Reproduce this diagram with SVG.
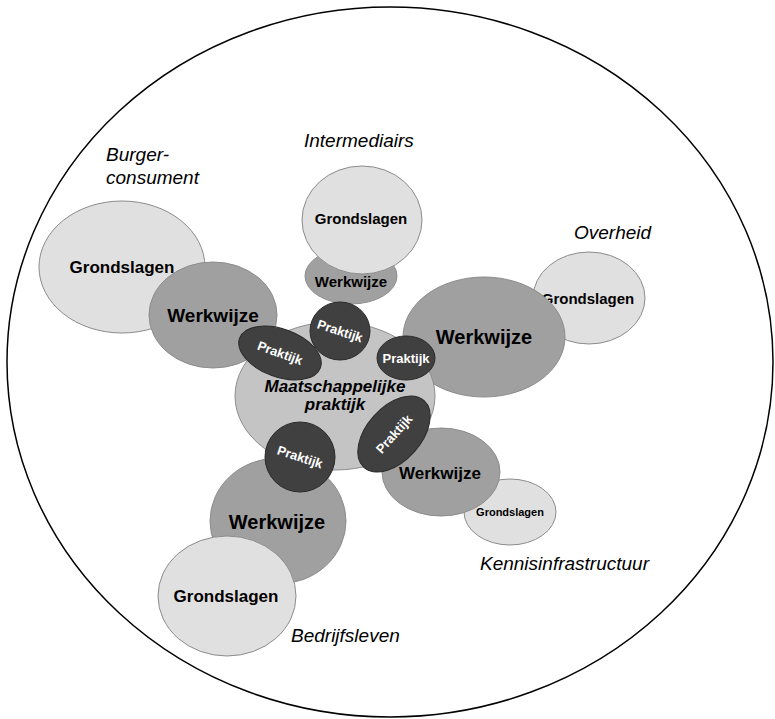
<svg xmlns="http://www.w3.org/2000/svg" width="775" height="719" viewBox="0 0 775 719">
  <style>
    text { font-family: "Liberation Sans", Arial, sans-serif; text-anchor: middle; }
    .frame { fill: none; stroke: #000; stroke-width: 1.5; }
    .grond { fill: #e0e0e0; stroke: #8c8c8c; stroke-width: 1; }
    .werk { fill: #a0a0a0; stroke: #8c8c8c; stroke-width: 1; }
    .kern { fill: #c4c4c4; stroke: #8c8c8c; stroke-width: 1; }
    .prak { fill: #404040; stroke: #2a2a2a; stroke-width: 1; }
    .lbl { font-weight: bold; fill: #000; }
    .plbl { font-weight: bold; fill: #fff; font-size: 13px; }
    .sector { font-style: italic; font-size: 19px; fill: #000; text-anchor: start; }
  </style>

  <!-- surrounding boundary -->
  <ellipse class="frame" cx="390" cy="362" rx="383" ry="355"/>

  <!-- sector labels -->
  <g id="label-burger">
    <text class="sector" x="106" y="161">Burger-</text>
    <text class="sector" x="106" y="184">consument</text>
  </g>
  <g id="label-intermediairs"><text class="sector" x="304" y="147">Intermediairs</text></g>
  <g id="label-overheid"><text class="sector" x="574" y="239">Overheid</text></g>
  <g id="label-kennis"><text class="sector" x="480" y="570">Kennisinfrastructuur</text></g>
  <g id="label-bedrijfsleven"><text class="sector" x="291" y="642">Bedrijfsleven</text></g>

  <!-- Burger-consument arm -->
  <g id="burger-grondslagen">
    <ellipse class="grond" cx="122" cy="267" rx="83" ry="66"/>
    <text class="lbl" x="122" y="273" font-size="17">Grondslagen</text>
  </g>
  <g id="burger-werkwijze">
    <ellipse class="werk" cx="213" cy="315" rx="64" ry="53"/>
    <text class="lbl" x="213" y="322" font-size="19">Werkwijze</text>
  </g>

  <!-- Intermediairs arm -->
  <g id="intermediairs-werkwijze">
    <ellipse class="werk" cx="351" cy="276" rx="46" ry="28"/>
    <text class="lbl" x="351" y="287" font-size="15">Werkwijze</text>
  </g>
  <g id="intermediairs-grondslagen">
    <ellipse class="grond" cx="362" cy="220" rx="60" ry="54"/>
    <text class="lbl" x="361" y="224" font-size="15">Grondslagen</text>
  </g>

  <!-- Overheid arm -->
  <g id="overheid-grondslagen">
    <ellipse class="grond" cx="589" cy="298" rx="56" ry="46"/>
    <text class="lbl" x="588" y="304" font-size="15">Grondslagen</text>
  </g>
  <g id="overheid-werkwijze">
    <ellipse class="werk" cx="484" cy="337" rx="81" ry="60"/>
    <text class="lbl" x="484" y="344" font-size="20">Werkwijze</text>
  </g>

  <!-- Kennisinfrastructuur arm -->
  <g id="kennis-grondslagen">
    <ellipse class="grond" cx="510" cy="512" rx="46" ry="33"/>
    <text class="lbl" x="510" y="516" font-size="11">Grondslagen</text>
  </g>
  <g id="kennis-werkwijze">
    <ellipse class="werk" cx="441" cy="472" rx="59" ry="44"/>
    <text class="lbl" x="440" y="479" font-size="17">Werkwijze</text>
  </g>

  <!-- Bedrijfsleven arm -->
  <g id="bedrijfsleven-werkwijze">
    <ellipse class="werk" cx="278" cy="521" rx="68" ry="63"/>
    <text class="lbl" x="277" y="529" font-size="20">Werkwijze</text>
  </g>
  <g id="bedrijfsleven-grondslagen">
    <ellipse class="grond" cx="227" cy="596" rx="69" ry="60"/>
    <text class="lbl" x="226" y="602" font-size="17">Grondslagen</text>
  </g>

  <!-- societal practice core -->
  <g id="maatschappelijke-praktijk">
    <ellipse class="kern" cx="335" cy="396" rx="100" ry="74"/>
    <text class="lbl" x="335" y="392" font-size="17" font-style="italic">Maatschappelijke</text>
    <text class="lbl" x="335" y="410" font-size="17" font-style="italic">praktijk</text>
  </g>

  <!-- practice nodes -->
  <g id="praktijk-burger" transform="translate(280 353) rotate(20)">
    <ellipse class="prak" cx="0" cy="0" rx="43" ry="24"/>
    <text class="plbl" x="0" y="4.5">Praktijk</text>
  </g>
  <g id="praktijk-intermediairs" transform="translate(340 331)">
    <ellipse class="prak" cx="0" cy="0" rx="30" ry="29"/>
    <text class="plbl" x="0" y="4.5" transform="rotate(18)">Praktijk</text>
  </g>
  <g id="praktijk-overheid" transform="translate(406 358)">
    <ellipse class="prak" cx="0" cy="0" rx="29" ry="22"/>
    <text class="plbl" x="0" y="5">Praktijk</text>
  </g>
  <g id="praktijk-kennis" transform="translate(394 434) rotate(-48)">
    <ellipse class="prak" cx="0" cy="0" rx="45" ry="27"/>
    <text class="plbl" x="0" y="4.5">Praktijk</text>
  </g>
  <g id="praktijk-bedrijfsleven" transform="translate(300 457)">
    <ellipse class="prak" cx="0" cy="0" rx="35" ry="35"/>
    <text class="plbl" x="0" y="4.5" transform="rotate(18)">Praktijk</text>
  </g>
</svg>
